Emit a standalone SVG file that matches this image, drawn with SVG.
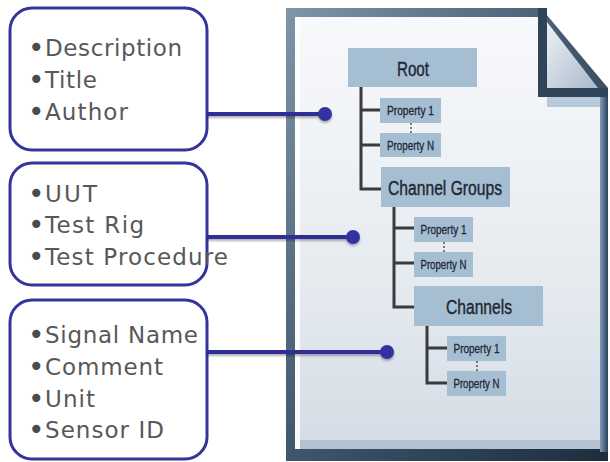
<svg xmlns="http://www.w3.org/2000/svg" width="610" height="462" viewBox="0 0 610 462">
  <defs>
    <linearGradient id="frame" x1="0" y1="0" x2="1" y2="1">
      <stop offset="0" stop-color="#7f95aa"/>
      <stop offset="0.5" stop-color="#3f566c"/>
      <stop offset="1" stop-color="#1c2d3d"/>
    </linearGradient>
    <linearGradient id="paper" x1="0" y1="0" x2="0" y2="1">
      <stop offset="0" stop-color="#f8f9fb"/>
      <stop offset="0.6" stop-color="#e6ebf0"/>
      <stop offset="1" stop-color="#d3dce5"/>
    </linearGradient>
    <linearGradient id="fold" x1="0" y1="0" x2="1" y2="1">
      <stop offset="0" stop-color="#eef1f5"/>
      <stop offset="1" stop-color="#a9b9cb"/>
    </linearGradient>
    <linearGradient id="rightedge" x1="0" y1="0" x2="1" y2="0">
      <stop offset="0" stop-color="#7c9dc0"/>
      <stop offset="1" stop-color="#2d4257"/>
    </linearGradient>
    <filter id="shadow" x="-10%" y="-50%" width="120%" height="200%">
      <feDropShadow dx="0" dy="2" stdDeviation="1.2" flood-color="#000" flood-opacity="0.3"/>
    </filter>
    <style>
      .info { fill: #ffffff; stroke: #34349a; stroke-width: 3; }
      .itxt { font-family: "DejaVu Sans", "Liberation Sans", sans-serif; font-size: 23px; fill: #585858; }
      .bul { font-size: 28px; fill: #4a4a4a; }
      .conn { stroke: #2f2f96; stroke-width: 4; fill: none; }
      .dot { fill: #3333a0; }
      .tbox { fill: #a6bed2; }
      .big { font-family: "Liberation Sans", Arial, sans-serif; font-size: 20px; fill: #1e2833; stroke: #1e2833; stroke-width: 0.4; text-anchor: middle; }
      .small { font-family: "Liberation Sans", Arial, sans-serif; font-size: 12.5px; fill: #1e2833; stroke: #1e2833; stroke-width: 0.3; text-anchor: middle; }
      .tree { stroke: #3b3b3b; stroke-width: 3; fill: none; }
      .dash { stroke: #555; stroke-width: 1.5; stroke-dasharray: 2 2; }
    </style>
  </defs>

  <rect x="0" y="0" width="610" height="462" fill="#ffffff"/>

  <!-- document -->
  <g id="document">
    <polygon points="286,8 541,8 608,88 608,461 286,461" fill="url(#frame)"/>
    <rect x="600" y="92" width="8" height="360" fill="url(#rightedge)"/>
    <polygon points="295,17 538,17 538,97 600,97 600,449 295,449" fill="url(#paper)"/>
    <rect x="295" y="17" width="5" height="432" fill="#ffffff" opacity="0.85"/>
    <rect x="300" y="440" width="300" height="9" fill="#b4c2d0"/>
    <rect x="547" y="97" width="53" height="10" fill="#b8c9db"/>
    <rect x="538" y="8" width="9" height="89" fill="#2f4458"/>
    <rect x="538" y="88" width="70" height="9" fill="#2f4458"/>
    <polygon points="547,22 547,88 598,88" fill="url(#fold)"/>
  </g>

  <!-- tree nodes -->
  <g id="root">
    <rect class="tbox" x="348" y="48" width="129" height="39"/>
    <text class="big" x="413" y="76" textLength="32" lengthAdjust="spacingAndGlyphs">Root</text>
  </g>
  <g id="root-prop1">
    <rect class="tbox" x="380" y="98" width="61" height="25"/>
    <text class="small" x="410.5" y="115" textLength="47" lengthAdjust="spacingAndGlyphs">Property 1</text>
  </g>
  <g id="root-propN">
    <rect class="tbox" x="380" y="133" width="61" height="24"/>
    <text class="small" x="410.5" y="150" textLength="47" lengthAdjust="spacingAndGlyphs">Property N</text>
  </g>
  <g id="channel-groups">
    <rect class="tbox" x="381" y="167" width="129" height="40"/>
    <text class="big" x="445" y="195" textLength="114" lengthAdjust="spacingAndGlyphs">Channel Groups</text>
  </g>
  <g id="cg-prop1">
    <rect class="tbox" x="414" y="217" width="59" height="25"/>
    <text class="small" x="443.5" y="234" textLength="46" lengthAdjust="spacingAndGlyphs">Property 1</text>
  </g>
  <g id="cg-propN">
    <rect class="tbox" x="414" y="252" width="59" height="25"/>
    <text class="small" x="443.5" y="269" textLength="46" lengthAdjust="spacingAndGlyphs">Property N</text>
  </g>
  <g id="channels">
    <rect class="tbox" x="414" y="286" width="129" height="40"/>
    <text class="big" x="479" y="314" textLength="66" lengthAdjust="spacingAndGlyphs">Channels</text>
  </g>
  <g id="ch-prop1">
    <rect class="tbox" x="447" y="336" width="59" height="25"/>
    <text class="small" x="476.5" y="353" textLength="46" lengthAdjust="spacingAndGlyphs">Property 1</text>
  </g>
  <g id="ch-propN">
    <rect class="tbox" x="447" y="371" width="59" height="25"/>
    <text class="small" x="476.5" y="388" textLength="46" lengthAdjust="spacingAndGlyphs">Property N</text>
  </g>

  <!-- info boxes -->
  <g id="file-info">
    <rect class="info" x="10" y="8" width="197" height="142" rx="22"/>
    <text class="itxt" y="56"><tspan class="bul" x="28" dy="1">•</tspan><tspan x="45" dy="-1" textLength="137">Description</tspan></text>
    <text class="itxt" y="88"><tspan class="bul" x="28" dy="1">•</tspan><tspan x="45" dy="-1" textLength="52">Title</tspan></text>
    <text class="itxt" y="120"><tspan class="bul" x="28" dy="1">•</tspan><tspan x="45" dy="-1" textLength="83">Author</tspan></text>
  </g>
  <g id="group-info">
    <rect class="info" x="10" y="163" width="197" height="122" rx="22"/>
    <text class="itxt" y="202"><tspan class="bul" x="28" dy="1">•</tspan><tspan x="45" dy="-1" textLength="52">UUT</tspan></text>
    <text class="itxt" y="233"><tspan class="bul" x="28" dy="1">•</tspan><tspan x="45" dy="-1" textLength="99">Test Rig</tspan></text>
    <text class="itxt" y="265"><tspan class="bul" x="28" dy="1">•</tspan><tspan x="45" dy="-1" textLength="183">Test Procedure</tspan></text>
  </g>
  <g id="channel-info">
    <rect class="info" x="10" y="300" width="197" height="159" rx="22"/>
    <text class="itxt" y="343"><tspan class="bul" x="28" dy="1">•</tspan><tspan x="45" dy="-1" textLength="153">Signal Name</tspan></text>
    <text class="itxt" y="375"><tspan class="bul" x="28" dy="1">•</tspan><tspan x="45" dy="-1" textLength="118">Comment</tspan></text>
    <text class="itxt" y="407"><tspan class="bul" x="28" dy="1">•</tspan><tspan x="45" dy="-1" textLength="50">Unit</tspan></text>
    <text class="itxt" y="438"><tspan class="bul" x="28" dy="1">•</tspan><tspan x="45" dy="-1" textLength="119">Sensor ID</tspan></text>
  </g>

  <!-- connectors -->
  <g id="connectors">
    <path class="tree" d="M361,87 V189 H381 M361,110 H380 M361,145 H380"/>
    <path class="tree" d="M394,207 V307 H414 M394,228 H414 M394,263 H414"/>
    <path class="tree" d="M427,326 V383 H447 M427,348 H447"/>
    <line class="dash" x1="411" y1="123" x2="411" y2="133"/>
    <line class="dash" x1="444" y1="242" x2="444" y2="252"/>
    <line class="dash" x1="477" y1="361" x2="477" y2="371"/>
    <g filter="url(#shadow)">
      <line class="conn" x1="207" y1="114" x2="325" y2="114"/>
      <circle class="dot" cx="325" cy="114" r="7"/>
      <line class="conn" x1="207" y1="237" x2="353" y2="237"/>
      <circle class="dot" cx="353" cy="237" r="7"/>
      <line class="conn" x1="207" y1="352" x2="387" y2="352"/>
      <circle class="dot" cx="387" cy="352" r="7"/>
    </g>
  </g>
</svg>
